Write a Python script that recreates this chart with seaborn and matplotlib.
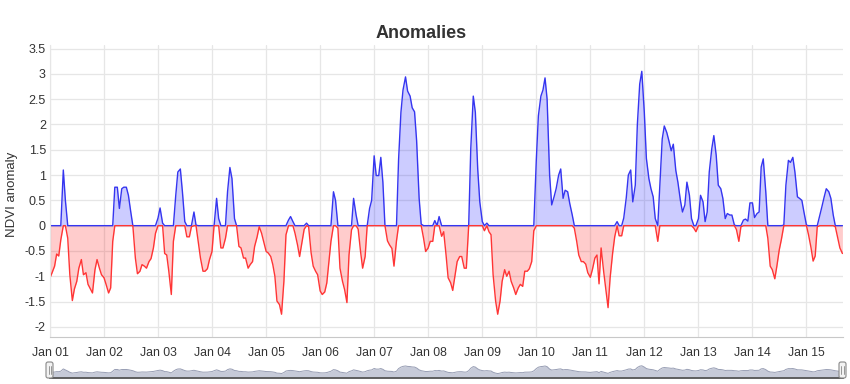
import numpy as np
import pandas as pd
import matplotlib
matplotlib.use('Agg')
import matplotlib.pyplot as plt
import matplotlib.dates as mdates
from matplotlib.patches import FancyBboxPatch
from matplotlib.lines import Line2D
import seaborn as sns

# NDVI anomaly, two values per month (1st and 15th)
a2001 = [-1.03, -0.93, -0.80, -0.56, -0.60, -0.28, 1.10, 0.50, -0.25, -0.97, -1.48, -1.25,
         -1.10, -0.84, -0.67, -0.97, -0.93, -1.16, -1.25, -1.33, -0.87, -0.67, -0.84, -0.97]
a2002 = [-1.03, -1.16, -1.33, -1.23, -0.31, 0.76, 0.76, 0.34, 0.73, 0.76, 0.76, 0.60,
         0.27, 0.00, -0.64, -0.95, -0.90, -0.77, -0.80, -0.84, -0.71, -0.65, -0.44, -0.15]
a2003 = [0.15, 0.35, 0.05, -0.55, -0.58, -0.90, -1.36, -0.31, 0.60, 1.06, 1.12, 0.67,
         0.08, -0.22, -0.22, -0.02, 0.27, 0.01, -0.35, -0.64, -0.90, -0.90, -0.85, -0.67]
a2004 = [-0.51, 0.00, 0.54, 0.14, -0.44, -0.44, -0.25, 0.67, 1.15, 0.93, 0.14, 0.00,
         -0.41, -0.44, -0.64, -0.64, -0.84, -0.77, -0.71, -0.41, -0.22, -0.02, -0.15, -0.31]
a2005 = [-0.51, -0.54, -0.61, -0.77, -1.00, -1.49, -1.56, -1.75, -1.10, -0.18, 0.11, 0.18,
         0.08, -0.15, -0.38, -0.61, -0.31, -0.07, 0.05, -0.02, -0.54, -0.80, -0.90, -0.97]
a2006 = [-1.29, -1.36, -1.31, -1.13, -0.71, -0.31, 0.67, 0.50, -0.05, -0.84, -1.10, -1.26,
         -1.52, -0.58, -0.08, 0.54, 0.21, -0.07, -0.51, -0.84, -0.61, 0.00, 0.34, 0.50]
a2007 = [1.38, 0.99, 0.99, 1.35, 0.86, 0.00, -0.30, -0.38, -0.45, -0.80, -0.30, 1.30,
         2.24, 2.68, 2.94, 2.66, 2.56, 2.33, 2.25, 1.68, 0.54, 0.03, -0.25, -0.51]
a2008 = [-0.44, -0.31, -0.31, 0.10, 0.00, 0.18, -0.21, -0.12, -0.58, -1.03, -1.13, -1.28,
         -0.97, -0.71, -0.61, -0.61, -0.84, -0.84, 0.00, 1.52, 2.56, 2.24, 1.12, 0.47]
a2009 = [0.08, -0.10, 0.05, -0.12, -0.18, -0.97, -1.49, -1.75, -1.49, -1.10, -0.87, -1.00,
         -0.90, -1.10, -1.23, -1.36, -1.23, -1.16, -1.20, -0.90, -0.90, -0.85, -0.71, -0.10]
a2010 = [1.30, 2.17, 2.56, 2.68, 2.92, 2.50, 1.00, 0.41, 0.57, 0.73, 1.00, 1.12,
         0.54, 0.70, 0.67, 0.44, 0.21, -0.05, -0.31, -0.58, -0.71, -0.71, -0.76, -0.93]
a2011 = [-1.02, -0.87, -0.64, -0.58, -1.15, -0.44, -0.90, -1.23, -1.62, -1.03, -0.54, -0.22,
         0.08, -0.20, -0.20, 0.15, 0.55, 1.00, 1.10, 0.47, 0.80, 2.00, 2.80, 3.05]
a2012 = [2.24, 1.33, 0.93, 0.73, 0.57, 0.14, -0.31, 0.80, 1.71, 1.97, 1.84, 1.68,
         1.48, 1.61, 1.09, 0.86, 0.50, 0.27, 0.41, 0.86, 0.60, 0.14, -0.05, -0.12]
a2013 = [0.14, 0.60, 0.47, 0.08, 0.27, 1.06, 1.52, 1.78, 1.39, 0.80, 0.73, 0.54,
         0.14, 0.24, 0.21, 0.21, 0.01, -0.08, -0.31, -0.02, 0.11, 0.13, 0.09, 0.45]
a2014 = [0.45, 0.16, 0.24, 0.27, 1.16, 1.32, 0.67, -0.25, -0.80, -0.87, -1.05, -0.80,
         -0.48, -0.28, 0.01, 0.80, 1.29, 1.25, 1.35, 1.06, 0.57, 0.54, 0.50, 0.27]
a2015 = [0.01, -0.18, -0.44, -0.70, -0.60, -0.02, 0.20, 0.37, 0.57, 0.73, 0.67, 0.54,
         0.21, -0.02, -0.25, -0.44, -0.55]

anios = [a2001, a2002, a2003, a2004, a2005, a2006, a2007, a2008,
         a2009, a2010, a2011, a2012, a2013, a2014, a2015]
valores = np.concatenate(anios)
fechas = pd.date_range('2001-01-01', periods=len(valores), freq='SMS')

df = pd.DataFrame({'fecha': fechas, 'anomalia': valores})
df['pos'] = df['anomalia'].clip(lower=0)
df['neg'] = df['anomalia'].clip(upper=0)

sns.set_style('whitegrid', {'grid.color': '#e6e6e6', 'axes.edgecolor': '#c8c8c8'})
plt.rcParams['font.family'] = ['Liberation Sans', 'DejaVu Sans']

fig = plt.figure(figsize=(8.5, 3.84), dpi=100)
ax = fig.add_axes([50 / 850, 47 / 384, 793 / 850, 292 / 384])

# relleno azul (positivo) y rojo (negativo)
ax.fill_between(df['fecha'], df['pos'], 0, color=(0, 0, 1, 0.2), lw=0)
ax.fill_between(df['fecha'], df['neg'], 0, color=(1, 0, 0, 0.2), lw=0)
sns.lineplot(data=df, x='fecha', y='pos', ax=ax, color='#3535f0', lw=1.0)
sns.lineplot(data=df, x='fecha', y='neg', ax=ax, color='#ff3535', lw=1.0)

xmin = pd.Timestamp('2001-01-01')
xmax = pd.Timestamp('2015-09-05')
ax.set_xlim(xmin, xmax)
ax.set_ylim(-2.2, 3.57)
ax.set_yticks(np.arange(-2, 3.51, 0.5))
ax.yaxis.set_major_formatter(matplotlib.ticker.FuncFormatter(lambda v, p: f'{v:g}'))
ax.xaxis.set_major_locator(mdates.YearLocator(1))
ax.xaxis.set_major_formatter(mdates.DateFormatter('%b %y'))
ax.tick_params(axis='y', length=0, pad=3, labelsize=9, labelcolor='#333333')
ax.tick_params(axis='x', length=0, pad=7, labelsize=8.8, labelcolor='#333333')
ax.grid(True, color='#e6e6e6', lw=0.9)
ax.set_xlabel('')
ax.set_ylabel('NDVI anomaly', fontsize=9.5, color='#333333', va='center')
ax.yaxis.set_label_coords(-38 / 793, 0.49)
for s in ['top', 'right']:
    ax.spines[s].set_visible(False)
ax.spines['left'].set_color('#e6e6e6')
ax.spines['bottom'].set_color('#c8c8c8')

fig.text(0.495, 1 - 33 / 384, 'Anomalies', ha='center', va='center',
         fontsize=13, fontweight='bold', color='#333333')

# navegador inferior
nav = fig.add_axes([50 / 850, 6 / 384, 793 / 850, 17 / 384])
nav.fill_between(df['fecha'], df['anomalia'], -4.5, color='#c6cad8', lw=0)
nav.plot(df['fecha'], df['anomalia'], color='#989eb4', lw=0.7)
nav.set_xlim(xmin, xmax)
nav.set_ylim(-4.5, 6.0)
nav.grid(False)
nav.set_xticks([])
nav.set_yticks([])
for s in ['top', 'right', 'left']:
    nav.spines[s].set_visible(False)
nav.spines['bottom'].set_color('#555555')
nav.spines['bottom'].set_linewidth(1.3)

# asas del navegador
for cx in [49.5, 842.5]:
    caja = FancyBboxPatch(((cx - 3.5) / 100, (384 - 378) / 100), 0.07, 0.16,
                          boxstyle='round,pad=0,rounding_size=0.02',
                          transform=fig.dpi_scale_trans, facecolor='#f2f2f2',
                          edgecolor='#888888', lw=0.8)
    fig.add_artist(caja)
    for dx in [-1, 1]:
        fig.add_artist(Line2D([(cx + dx) / 100] * 2, [(384 - 374) / 100, (384 - 366) / 100],
                              transform=fig.dpi_scale_trans, color='#888888', lw=0.6))

plt.savefig('out.png', dpi=100)
